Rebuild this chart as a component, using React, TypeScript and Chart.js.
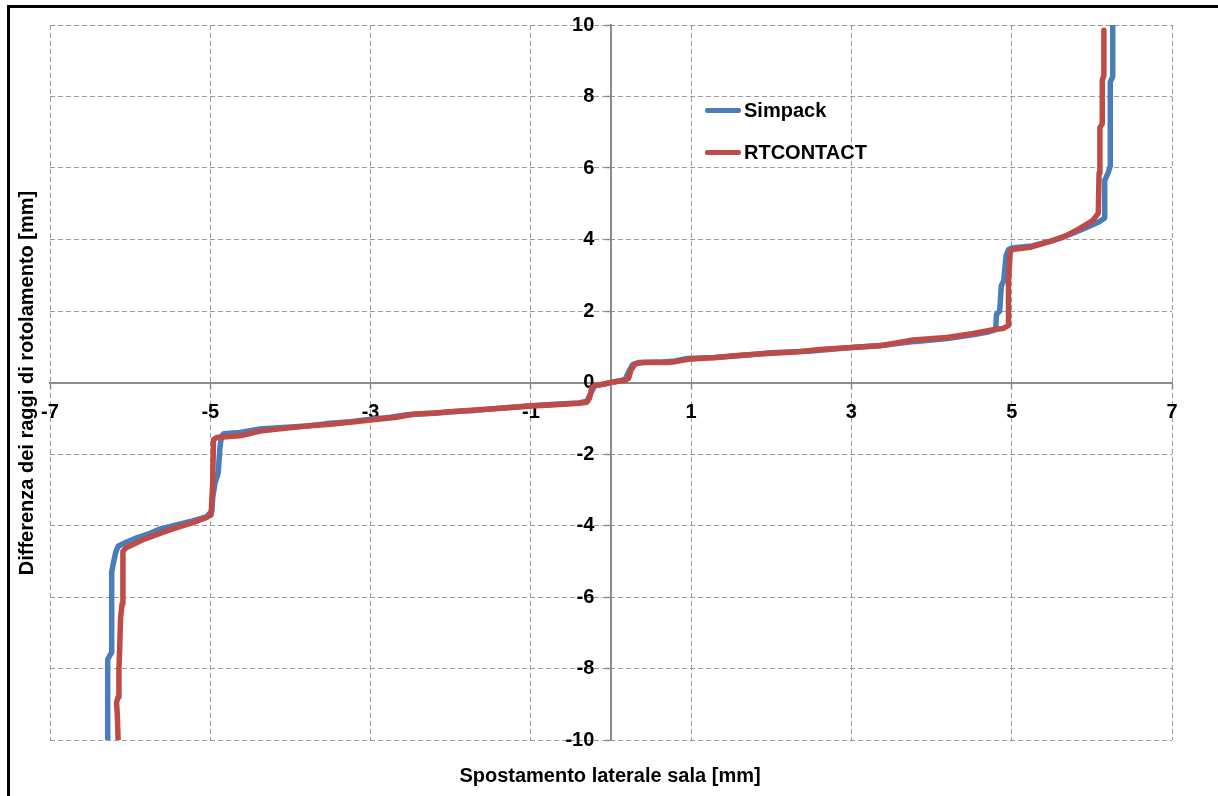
import { useEffect, useRef } from "react";
import { Chart, registerables } from "chart.js";

Chart.register(...registerables);

// Axis ticks
const xTicks = [-7, -5, -3, -1, 1, 3, 5, 7];
const yTicks = [-10, -8, -6, -4, -2, 0, 2, 4, 6, 8, 10];

// Simpack: lateral displacement [mm] vs rolling radius difference [mm]
const simpackX = [
  -6.28, -6.28, -6.25, -6.23, -6.23, -6.21, -6.18, -6.15, -6.05, -5.91,
  -5.75, -5.63, -5.45, -5.22, -5.05, -4.98, -4.97, -4.94, -4.91, -4.9,
  -4.88, -4.86, -4.83, -4.63, -4.38, -4.1, -3.8, -3.55, -3.25, -3.0,
  -2.75, -2.55, -2.2, -2.0, -1.7, -1.4, -1.0, -0.7, -0.4, -0.3,
  -0.25, -0.21, -0.1, 0.0, 0.12, 0.18, 0.22, 0.27, 0.35, 0.6,
  0.8, 0.95, 1.3, 1.6, 2.0, 2.5, 3.0, 3.4, 3.8, 4.2,
  4.55, 4.72, 4.8, 4.81, 4.85, 4.87, 4.9, 4.93, 4.96, 5.0,
  5.25, 5.5, 5.7, 5.9, 6.08, 6.16, 6.16, 6.2, 6.23, 6.23,
  6.26, 6.26,
];
const simpackY = [
  -10.0, -7.75, -7.62, -7.55, -5.3, -5.06, -4.75, -4.58, -4.47, -4.34,
  -4.22, -4.1, -4.0, -3.87, -3.76, -3.6, -3.22, -2.8, -2.6, -2.5,
  -1.82, -1.5, -1.43, -1.4, -1.3, -1.26, -1.22, -1.15, -1.1, -1.03,
  -0.97, -0.9, -0.86, -0.82, -0.78, -0.72, -0.65, -0.61, -0.57, -0.52,
  -0.3, -0.1, -0.05, 0.0, 0.05, 0.1, 0.3, 0.5, 0.56, 0.57,
  0.6, 0.67, 0.7, 0.75, 0.83, 0.88, 0.98, 1.04, 1.15, 1.23,
  1.35, 1.42, 1.48, 1.9, 2.0, 2.7, 2.85, 3.55, 3.72, 3.76,
  3.82, 3.96, 4.12, 4.3, 4.48, 4.6, 5.65, 5.85, 6.05, 8.4,
  8.55, 10.0,
];

// RTCONTACT
const rtcontactX = [
  -6.15, -6.16, -6.17, -6.15, -6.14, -6.13, -6.12, -6.1, -6.09, -6.09,
  -6.05, -5.84, -5.63, -5.42, -5.22, -5.05, -4.99, -4.97, -4.96, -4.92,
  -4.6, -4.38, -4.1, -3.8, -3.5, -3.2, -3.0, -2.7, -2.45, -2.2,
  -2.0, -1.7, -1.4, -1.0, -0.7, -0.4, -0.3, -0.27, -0.24, -0.2,
  -0.1, 0.0, 0.1, 0.17, 0.22, 0.25, 0.3, 0.4, 0.7, 0.77,
  1.0, 1.3, 1.61, 2.0, 2.3, 2.6, 3.0, 3.36, 3.77, 4.19,
  4.52, 4.77, 4.89, 4.96, 4.96, 4.98, 5.0, 5.23, 5.64, 5.85,
  6.01, 6.08, 6.09, 6.1, 6.13, 6.13, 6.15, 6.15,
];
const rtcontactY = [
  -10.0, -9.3, -8.95, -8.8, -8.0, -7.4, -6.6, -6.18, -6.0, -4.72,
  -4.62, -4.4, -4.22, -4.06, -3.92, -3.78, -3.7, -2.8, -1.6, -1.54,
  -1.48, -1.36, -1.29, -1.22, -1.17, -1.1, -1.05, -0.98, -0.88, -0.85,
  -0.82, -0.77, -0.73, -0.66, -0.62, -0.58, -0.55, -0.45, -0.15, -0.08,
  -0.05, 0.0, 0.04, 0.06, 0.12, 0.35, 0.52, 0.56, 0.56, 0.57,
  0.66, 0.7, 0.76, 0.82, 0.85, 0.92, 0.98, 1.03, 1.19, 1.26,
  1.37, 1.48, 1.51, 1.6, 2.8, 3.6, 3.72, 3.78, 4.06, 4.31,
  4.53, 4.73, 5.85, 7.13, 7.24, 8.45, 8.59, 9.85,
];

const BLUE = "#4a7ebb";
const RED = "#be4b48";
const GRID = "#9a9a9a";
const AXIS = "#8c8c8c";
const FONT = '"Liberation Sans", Arial, sans-serif';

const toPoints = (xs: number[], ys: number[]) => xs.map((x, i) => ({ x, y: ys[i] }));

export default function App() {
  const canvasRef = useRef<HTMLCanvasElement>(null);

  useEffect(() => {
    if (!canvasRef.current) return;
    const chart = new Chart(canvasRef.current, {
      type: "scatter",
      data: {
        datasets: [
          {
            label: "Simpack",
            data: toPoints(simpackX, simpackY),
            showLine: true,
            borderColor: BLUE,
            backgroundColor: BLUE,
            borderWidth: 5.5,
            pointRadius: 0,
            borderJoinStyle: "round",
            borderCapStyle: "round",
            order: 1,
          },
          {
            label: "RTCONTACT",
            data: toPoints(rtcontactX, rtcontactY),
            showLine: true,
            borderColor: RED,
            backgroundColor: RED,
            borderWidth: 5.5,
            pointRadius: 0,
            borderJoinStyle: "round",
            borderCapStyle: "round",
            order: 0,
          },
        ],
      },
      options: {
        responsive: false,
        animation: false,
        layout: { padding: { left: 50, right: 46, top: 25, bottom: 56 } },
        plugins: { legend: { display: false }, tooltip: { enabled: false } },
        scales: {
          x: {
            type: "linear",
            min: -7,
            max: 7,
            position: { y: 0 },
            afterBuildTicks: (s: any) => {
              s.ticks = xTicks.map((v) => ({ value: v }));
            },
            afterFit: (s: any) => {
              s.height = 0;
            },
            grid: {
              color: GRID,
              lineWidth: 1,
              tickLength: 5,
              tickColor: AXIS,
              tickWidth: 1.5,
            },
            border: { display: true, color: AXIS, width: 2, dash: [5, 3] },
            ticks: {
              color: "#000",
              font: { family: FONT, size: 20, weight: "bold" },
              padding: 13,
              autoSkip: false,
              maxRotation: 0,
            },
          },
          y: {
            type: "linear",
            min: -10,
            max: 10,
            position: { x: 0 },
            afterBuildTicks: (s: any) => {
              s.ticks = yTicks.map((v) => ({ value: v }));
            },
            afterFit: (s: any) => {
              s.width = 0;
            },
            grid: {
              color: (c: any) => (c.tick && c.tick.value === 0 ? "rgba(0,0,0,0)" : GRID),
              lineWidth: 1,
              tickLength: 5,
              tickColor: AXIS,
              tickWidth: 1.5,
            },
            border: { display: true, color: AXIS, width: 2, dash: [5, 3] },
            ticks: {
              color: "#000",
              font: { family: FONT, size: 20, weight: "bold" },
              // labels sit left of the centred axis; trailing spaces keep a gap to the line
              callback: (v: any) => `${v}   `,
              autoSkip: false,
            },
          },
        },
      },
    });
    return () => chart.destroy();
  }, []);

  const text: React.CSSProperties = {
    position: "absolute",
    fontFamily: FONT,
    fontWeight: "bold",
    fontSize: 20,
    lineHeight: "20px",
    color: "#000",
    whiteSpace: "nowrap",
  };

  return (
    <div
      style={{
        position: "fixed",
        left: 0,
        top: 0,
        width: 1218,
        height: 796,
        background: "#fff",
        overflow: "hidden",
      }}
    >
      <canvas ref={canvasRef} width={1218} height={796} style={{ display: "block" }} />
      <div
        style={{
          position: "absolute",
          left: 7,
          top: 5,
          right: -10,
          bottom: -10,
          borderLeft: "3px solid #000",
          borderTop: "3px solid #000",
          pointerEvents: "none",
        }}
      />
      <div style={{ ...text, left: 610, top: 765, transform: "translateX(-50%)" }}>
        Spostamento laterale sala [mm]
      </div>
      <div
        style={{
          ...text,
          left: 26,
          top: 383,
          transform: "translate(-50%, -50%) rotate(-90deg)",
        }}
      >
        Differenza dei raggi di rotolamento [mm]
      </div>
      <div style={{ position: "absolute", left: 705, top: 108, width: 36, height: 5, borderRadius: 2, background: BLUE }} />
      <div style={{ ...text, left: 744, top: 100 }}>Simpack</div>
      <div style={{ position: "absolute", left: 705, top: 150, width: 36, height: 5, borderRadius: 2, background: RED }} />
      <div style={{ ...text, left: 744, top: 142 }}>RTCONTACT</div>
    </div>
  );
}
